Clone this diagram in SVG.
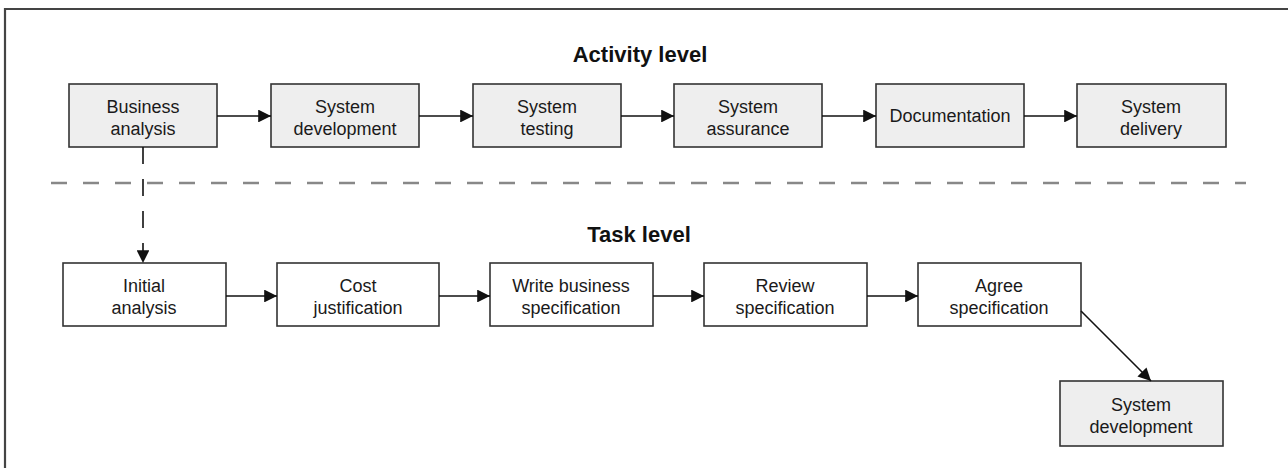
<svg xmlns="http://www.w3.org/2000/svg" width="1288" height="468" viewBox="0 0 1288 468">
<style>
.box{stroke:#333;stroke-width:1.6}
.act{fill:#eeeeee}
.task{fill:#ffffff}
.lbl{font-family:"Liberation Sans",Arial,sans-serif;font-size:18px;fill:#1a1a1a;text-anchor:middle}
.title{font-family:"Liberation Sans",Arial,sans-serif;font-size:22px;font-weight:bold;fill:#111;text-anchor:middle}
.conn{stroke:#111;stroke-width:1.6;fill:none}
</style>
<defs>
<marker id="ah" viewBox="0 0 10 10" refX="10" refY="5" markerWidth="8" markerHeight="8" orient="auto" markerUnits="strokeWidth">
<path d="M0,0 L10,5 L0,10 Z" fill="#111"/>
</marker>
</defs>
<rect width="1288" height="468" fill="#fff"/>
<path d="M5,468 V9 H1288" fill="none" stroke="#444" stroke-width="2.2"/>
<text class="title" x="640" y="62">Activity level</text>
<text class="title" x="639" y="242">Task level</text>
<line x1="51" y1="183" x2="1246" y2="183" stroke="#888" stroke-width="2.5" stroke-dasharray="16 16"/>

<g id="a1"><rect class="box act" x="69" y="84" width="148" height="63"/><text class="lbl" x="143" y="113">Business</text><text class="lbl" x="143" y="135">analysis</text></g>
<g id="a2"><rect class="box act" x="271" y="84" width="148" height="63"/><text class="lbl" x="345" y="113">System</text><text class="lbl" x="345" y="135">development</text></g>
<g id="a3"><rect class="box act" x="473" y="84" width="148" height="63"/><text class="lbl" x="547" y="113">System</text><text class="lbl" x="547" y="135">testing</text></g>
<g id="a4"><rect class="box act" x="674" y="84" width="148" height="63"/><text class="lbl" x="748" y="113">System</text><text class="lbl" x="748" y="135">assurance</text></g>
<g id="a5"><rect class="box act" x="876" y="84" width="148" height="63"/><text class="lbl" x="950" y="122">Documentation</text></g>
<g id="a6"><rect class="box act" x="1077" y="84" width="149" height="63"/><text class="lbl" x="1151" y="113">System</text><text class="lbl" x="1151" y="135">delivery</text></g>

<g id="t1"><rect class="box task" x="63" y="263" width="163" height="63"/><text class="lbl" x="144" y="292">Initial</text><text class="lbl" x="144" y="314">analysis</text></g>
<g id="t2"><rect class="box task" x="277" y="263" width="162" height="63"/><text class="lbl" x="358" y="292">Cost</text><text class="lbl" x="358" y="314">justification</text></g>
<g id="t3"><rect class="box task" x="490" y="263" width="163" height="63"/><text class="lbl" x="571" y="292">Write business</text><text class="lbl" x="571" y="314">specification</text></g>
<g id="t4"><rect class="box task" x="704" y="263" width="163" height="63"/><text class="lbl" x="785" y="292">Review</text><text class="lbl" x="785" y="314">specification</text></g>
<g id="t5"><rect class="box task" x="918" y="263" width="163" height="63"/><text class="lbl" x="999" y="292">Agree</text><text class="lbl" x="999" y="314">specification</text></g>
<g id="t6"><rect class="box act" x="1060" y="381" width="163" height="65"/><text class="lbl" x="1141" y="411">System</text><text class="lbl" x="1141" y="433">development</text></g>

<g id="connectors">
<line class="conn" x1="217" y1="116" x2="271" y2="116" marker-end="url(#ah)"/>
<line class="conn" x1="419" y1="116" x2="473" y2="116" marker-end="url(#ah)"/>
<line class="conn" x1="621" y1="116" x2="674" y2="116" marker-end="url(#ah)"/>
<line class="conn" x1="822" y1="116" x2="876" y2="116" marker-end="url(#ah)"/>
<line class="conn" x1="1024" y1="116" x2="1077" y2="116" marker-end="url(#ah)"/>
<line class="conn" x1="143" y1="147" x2="143" y2="263" stroke-dasharray="17 15" marker-end="url(#ah)"/>
<line class="conn" x1="226" y1="296" x2="277" y2="296" marker-end="url(#ah)"/>
<line class="conn" x1="439" y1="296" x2="490" y2="296" marker-end="url(#ah)"/>
<line class="conn" x1="653" y1="296" x2="704" y2="296" marker-end="url(#ah)"/>
<line class="conn" x1="867" y1="296" x2="918" y2="296" marker-end="url(#ah)"/>
<line class="conn" x1="1081" y1="311" x2="1151" y2="381" marker-end="url(#ah)"/>
</g>
</svg>
